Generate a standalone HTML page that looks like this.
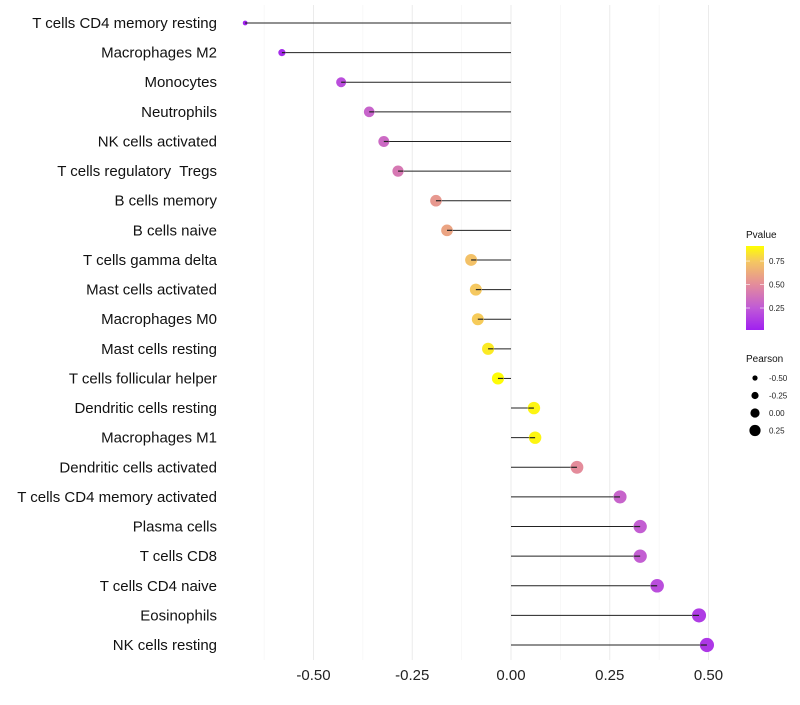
<!DOCTYPE html>
<html><head><meta charset="utf-8"><style>
body{margin:0;background:#fff;font-family:"Liberation Sans",Arial,sans-serif}
text{white-space:pre}
</style></head><body>
<svg id="c" width="800" height="700" xmlns="http://www.w3.org/2000/svg"></svg>
<script>
const categories=["T cells CD4 memory resting","Macrophages M2","Monocytes","Neutrophils","NK cells activated","T cells regulatory  Tregs","B cells memory","B cells naive","T cells gamma delta","Mast cells activated","Macrophages M0","Mast cells resting","T cells follicular helper","Dendritic cells resting","Macrophages M1","Dendritic cells activated","T cells CD4 memory activated","Plasma cells","T cells CD8","T cells CD4 naive","Eosinophils","NK cells resting"];
const pearson=[-0.673,-0.580,-0.430,-0.359,-0.322,-0.286,-0.190,-0.162,-0.101,-0.089,-0.084,-0.058,-0.033,0.058,0.061,0.167,0.276,0.327,0.327,0.370,0.476,0.496];
const pvalue=[0.01,0.05,0.2,0.3,0.33,0.4,0.55,0.6,0.72,0.75,0.76,0.85,0.9,0.88,0.88,0.5,0.3,0.27,0.27,0.2,0.12,0.1];
const xTicks=[-0.5,-0.25,0,0.25,0.5];
const xTickLabels=["-0.50","-0.25","0.00","0.25","0.50"];
const legendSizes=[-0.5,-0.25,0,0.25];
const legendSizeLabels=["-0.50","-0.25","0.00","0.25"];
const pTicks=[0.75,0.5,0.25];
const pTickLabels=["0.75","0.50","0.25"];

const svg=document.getElementById('c');
const NS="http://www.w3.org/2000/svg";
function el(t,a,p){const e=document.createElementNS(NS,t);for(const k in a)e.setAttribute(k,a[k]);(p||svg).appendChild(e);return e;}
const x=v=>511+v*395;
const y=i=>23+i*29.62;
// size scale (sqrt-like), chart points
function r(v){const a=[[-0.68,2.3],[-0.58,3.6],[-0.43,5],[-0.29,5.6],[-0.03,6.1],[0.3,6.6],[0.5,7.1]];
if(v<=a[0][0])return a[0][1];for(let i=0;i<a.length-1;i++){if(v<=a[i+1][0]){const t=(v-a[i][0])/(a[i+1][0]-a[i][0]);return a[i][1]+t*(a[i+1][1]-a[i][1]);}}return a[a.length-1][1];}
const rl=v=>4.6+4*v;
const stops=[[0,[160,32,240]],[0.25,[192,90,215]],[0.5,[228,140,155]],[0.75,[245,200,96]],[0.91,[255,255,0]]];
function col(p){p=Math.max(0,Math.min(0.91,p));for(let i=0;i<stops.length-1;i++){const[a,ca]=stops[i],[b,cb]=stops[i+1];if(p<=b){const t=(p-a)/(b-a);return "rgb("+ca.map((c,j)=>Math.round(c+(cb[j]-c)*t)).join(",")+")";}}return "rgb(255,255,0)";}

for(let v=-0.625;v<=0.5001;v+=0.125){const major=Math.abs(v*4-Math.round(v*4))<1e-6;
const g=el('line',{x1:x(v),x2:x(v),y1:5,y2:660,stroke:major?'#ebebeb':'#f4f4f4','stroke-width':major?1:0.6});
}
xTicks.forEach((v,i)=>{const t=el('text',{x:x(v),y:680,'text-anchor':'middle','font-size':15,fill:'#222'});t.textContent=xTickLabels[i];
});
categories.forEach((c,i)=>{
const t=el('text',{x:217,y:y(i)+5,'text-anchor':'end','font-size':15,fill:'#111'});t.textContent=c;

const l=el('line',{x1:x(0),x2:x(pearson[i]),y1:y(i),y2:y(i),stroke:'#222','stroke-width':1});

});
categories.forEach((c,i)=>{
const d=el('circle',{cx:x(pearson[i]),cy:y(i),r:r(pearson[i]),fill:col(pvalue[i])});

const l2=el('line',{x1:x(pearson[i])+(pearson[i]<0?1:-1)*r(pearson[i])*0.9,x2:x(pearson[i]),y1:y(i),y2:y(i),stroke:'#222','stroke-width':1.2});

});
const defs=el('defs',{});
const lg=el('linearGradient',{id:'pg',x1:0,y1:1,x2:0,y2:0},defs);
stops.forEach(s=>{el('stop',{offset:(s[0]-0.016)/(0.91-0.016),'stop-color':'rgb('+s[1].join(',')+')'},lg);});
const tt=el('text',{x:746,y:238,'font-size':10,fill:'#111'});tt.textContent='Pvalue';

const cb=el('rect',{x:746,y:246,width:18,height:84,fill:'url(#pg)'});

const py=p=>330-(p-0.016)/(0.91-0.016)*84;
pTicks.forEach((p,i)=>{el('line',{x1:746,x2:750,y1:py(p),y2:py(p),stroke:'#fff','stroke-width':0.6});el('line',{x1:760,x2:764,y1:py(p),y2:py(p),stroke:'#fff','stroke-width':0.6});
const t=el('text',{x:769,y:py(p)+3,'font-size':8,fill:'#222'});t.textContent=pTickLabels[i];
});
const st=el('text',{x:746,y:362,'font-size':10,fill:'#111'});st.textContent='Pearson';

legendSizes.forEach((v,i)=>{const cy=378+i*17.5;
const c=el('circle',{cx:755,cy:cy,r:rl(v),fill:'#000'});
const t=el('text',{x:769,y:cy+3,'font-size':8,fill:'#222'});t.textContent=legendSizeLabels[i];
});
</script>
</body></html>
